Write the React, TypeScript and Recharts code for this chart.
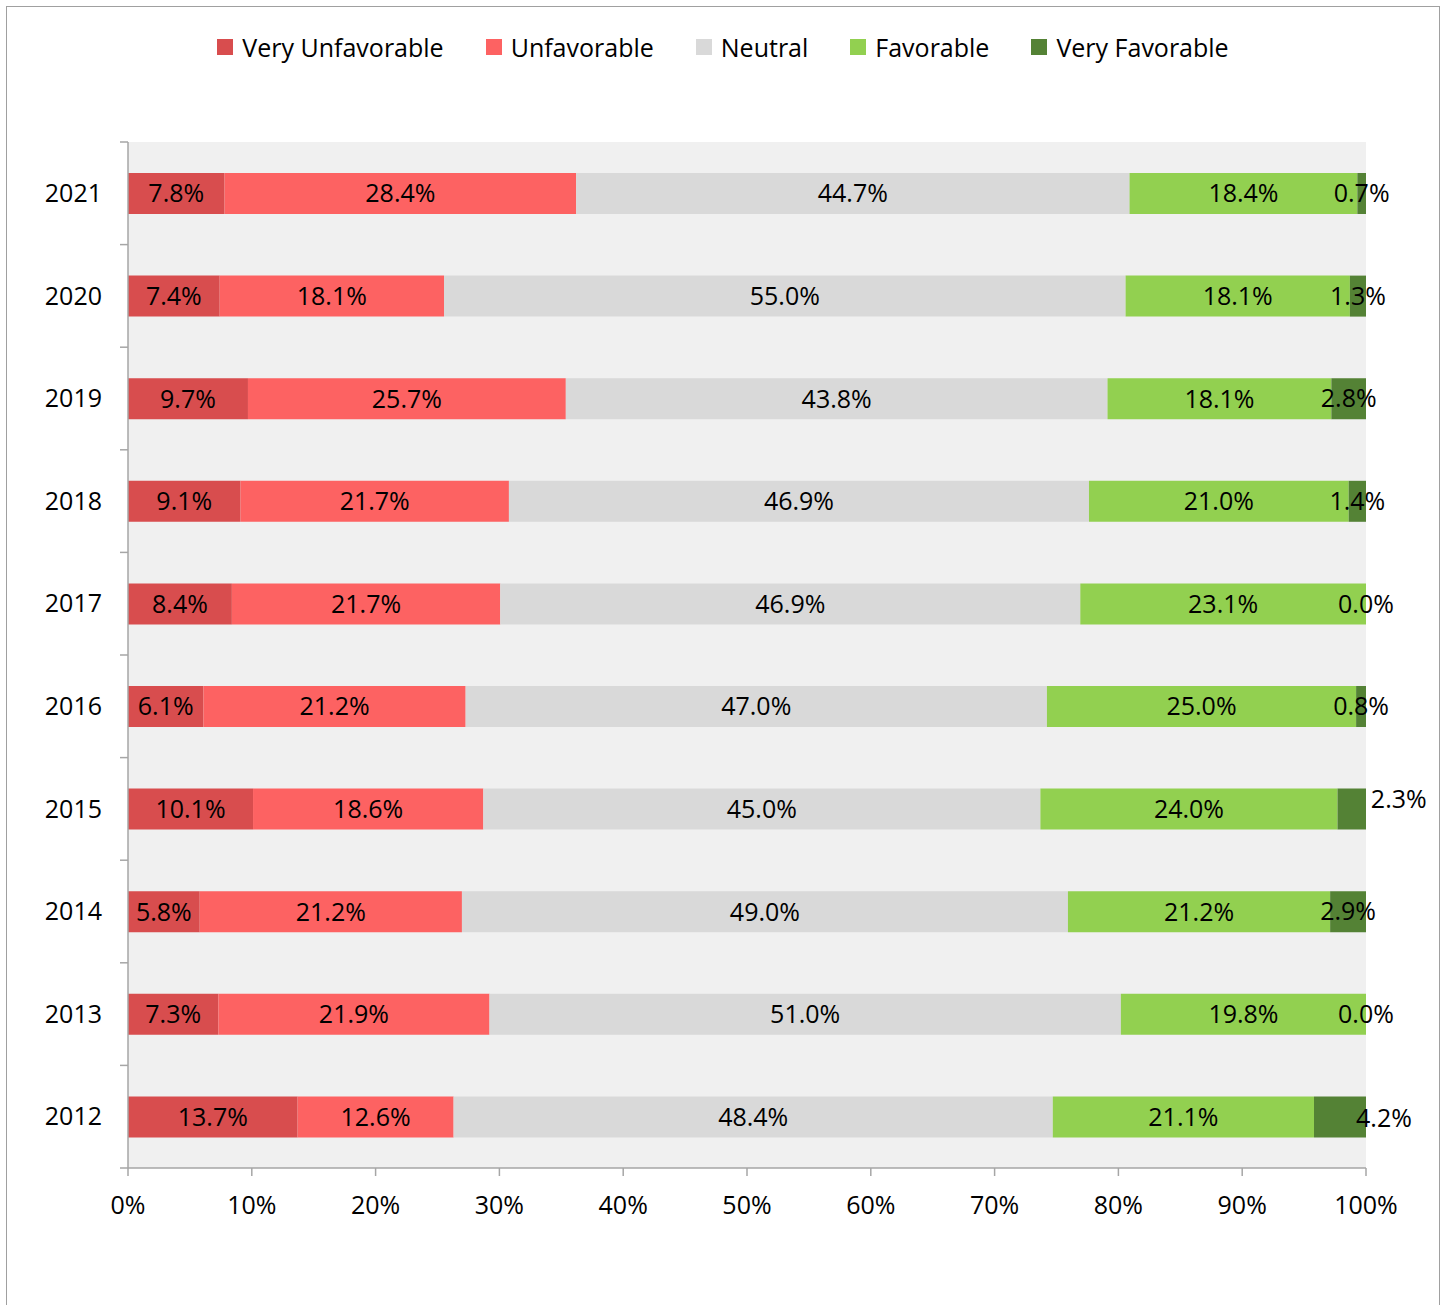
import React from "react";
import {
  BarChart,
  Bar,
  XAxis,
  YAxis,
  CartesianGrid,
  LabelList,
} from "recharts";

// years, top to bottom as drawn
const years = ["2021", "2020", "2019", "2018", "2017", "2016", "2015", "2014", "2013", "2012"];

// shares in percent, same order as years
const veryUnfavorable = [7.8, 7.4, 9.7, 9.1, 8.4, 6.1, 10.1, 5.8, 7.3, 13.7];
const unfavorable = [28.4, 18.1, 25.7, 21.7, 21.7, 21.2, 18.6, 21.2, 21.9, 12.6];
const neutral = [44.7, 55.0, 43.8, 46.9, 46.9, 47.0, 45.0, 49.0, 51.0, 48.4];
const favorable = [18.4, 18.1, 18.1, 21.0, 23.1, 25.0, 24.0, 21.2, 19.8, 21.1];
const veryFavorable = [0.7, 1.3, 2.8, 1.4, 0.0, 0.8, 2.3, 2.9, 0.0, 4.2];

const xTicks = [0, 0.1, 0.2, 0.3, 0.4, 0.5, 0.6, 0.7, 0.8, 0.9, 1];

const series = [
  { key: "vu", name: "Very Unfavorable", color: "#d84d4e" },
  { key: "u", name: "Unfavorable", color: "#fd6262" },
  { key: "n", name: "Neutral", color: "#d9d9d9" },
  { key: "f", name: "Favorable", color: "#92d050" },
  { key: "vf", name: "Very Favorable", color: "#548235" },
];

const data = years.map((year, i) => ({
  year,
  vu: veryUnfavorable[i],
  u: unfavorable[i],
  n: neutral[i],
  f: favorable[i],
  vf: veryFavorable[i],
}));

const FONT = "'Open Sans', sans-serif";
const FS = 25;
const AXIS = "#a6a6a6";
const W = 1446;
const H = 1305;
const M = { top: 142, right: 80, bottom: 87, left: 0 };
const BAND = (H - M.top - M.bottom - 50) / years.length;

// a couple of "Very Favorable" labels were dragged aside in the original
const vfLabelShift: Record<string, [number, number]> = {
  "2015": [47, -10],
  "2012": [44, 1],
};

const fmt = (v: number) => `${v.toFixed(1)}%`;

function YearTick(props: any) {
  const { x, y, payload, index } = props;
  const half = BAND / 2;
  return (
    <g>
      <line x1={x - 8} x2={x} y1={y + half} y2={y + half} stroke={AXIS} strokeWidth={1.5} />
      {index === 0 && (
        <line x1={x - 8} x2={x} y1={y - half} y2={y - half} stroke={AXIS} strokeWidth={1.5} />
      )}
      <text x={x - 26} y={y} dy="0.35em" textAnchor="end" fontSize={FS} fontFamily={FONT} fill="#000">
        {payload.value}
      </text>
    </g>
  );
}

// "Very Favorable" labels hang off the Favorable bar so zero-width
// segments still get their 0.0% label; the vf segment width comes
// from the favorable bar's own pixel width (same scale).
function VfLabel(props: any) {
  const { x, y, width, height, index } = props;
  const vf = veryFavorable[index];
  const vfWidth = (width * vf) / favorable[index];
  const [sx, sy] = vfLabelShift[years[index]] || [0, 0];
  const cx = x + width + vfWidth / 2 + sx;
  const cy = y + height / 2 + sy;
  return (
    <text x={cx} y={cy} dy="0.35em" textAnchor="middle" fontSize={FS} fontFamily={FONT} fill="#000">
      {fmt(vf)}
    </text>
  );
}

function Legend() {
  return (
    <div
      style={{
        position: "absolute",
        top: 30,
        left: 0,
        width: W,
        display: "flex",
        justifyContent: "center",
        gap: 42,
        fontFamily: FONT,
        fontSize: FS,
        lineHeight: "34px",
      }}
    >
      {series.map((s) => (
        <div key={s.key} style={{ display: "flex", alignItems: "center" }}>
          <span style={{ width: 16, height: 16, background: s.color, marginRight: 9 }} />
          <span>{s.name}</span>
        </div>
      ))}
    </div>
  );
}

export default function App() {
  return (
    <div style={{ position: "absolute", left: 0, top: 0, width: W, height: H, overflow: "hidden", background: "#fff" }}>
      <div
        style={{
          position: "absolute",
          left: 6,
          top: 6,
          width: W - 14,
          height: H + 10,
          border: "1.5px solid #a0a0a0",
        }}
      />
      <Legend />
      <div style={{ position: "absolute", left: 0, top: 0 }}>
        <BarChart
          width={W}
          height={H}
          data={data}
          layout="vertical"
          stackOffset="expand"
          barSize={41}
          margin={M}
        >
          <CartesianGrid fill="#f0f0f0" horizontal={false} vertical={false} />
          <XAxis
            type="number"
            domain={[0, 1]}
            ticks={xTicks}
            tickFormatter={(v: number) => `${Math.round(v * 100)}%`}
            axisLine={{ stroke: AXIS, strokeWidth: 1.5 }}
            tickLine={{ stroke: AXIS, strokeWidth: 1.5 }}
            tickSize={8}
            tickMargin={20}
            height={50}
            tick={{ fontSize: FS, fontFamily: FONT, fill: "#000" }}
            interval={0}
          />
          <YAxis
            type="category"
            dataKey="year"
            width={128}
            axisLine={{ stroke: AXIS, strokeWidth: 1.5 }}
            tickLine={false}
            tickSize={0}
            tickMargin={0}
            tick={<YearTick />}
            interval={0}
          />
          {series.map((s) => (
            <Bar key={s.key} dataKey={s.key} name={s.name} stackId="a" fill={s.color} isAnimationActive={false}>
              {s.key !== "vf" && (
                <LabelList
                  dataKey={s.key}
                  position="center"
                  formatter={(v: any) => fmt(Number(v))}
                  style={{ fontSize: FS, fontFamily: FONT, fill: "#000" }}
                />
              )}
              {s.key === "f" && <LabelList dataKey="vf" content={<VfLabel />} />}
            </Bar>
          ))}
        </BarChart>
      </div>
    </div>
  );
}
